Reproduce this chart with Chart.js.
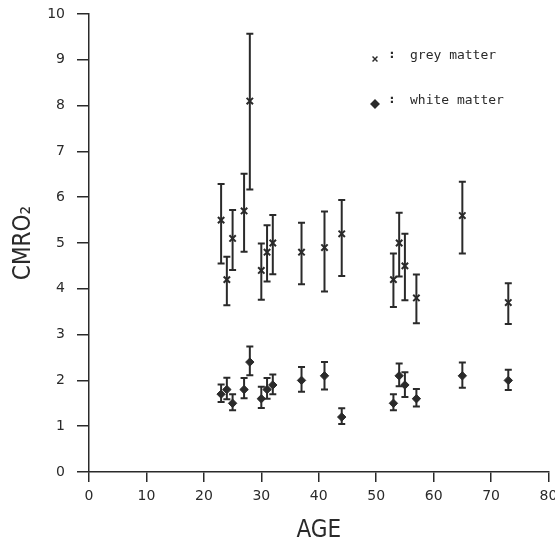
<!DOCTYPE html>
<html>
<head>
<meta charset="utf-8">
<script src="https://cdn.jsdelivr.net/npm/chart.js@4/dist/chart.umd.min.js"></script>
<style>
  html, body { margin: 0; padding: 0; background: #fff; }
  #wrap { width: 555px; height: 540px; position: relative; }
</style>
</head>
<body>
<div id="wrap"><canvas id="c" width="555" height="540"></canvas></div>
<script>
// ---- data ----
const ages      = [23, 24, 25, 27, 28, 30, 31, 32, 37, 41, 44, 53, 54, 55, 57, 65, 73];
const greyMean  = [5.5, 4.2, 5.1, 5.7, 8.1, 4.4, 4.8, 5.0, 4.8, 4.9, 5.2, 4.2, 5.0, 4.5, 3.8, 5.6, 3.7];
const greyLow   = [4.55, 3.64, 4.41, 4.81, 6.17, 3.76, 4.16, 4.32, 4.10, 3.94, 4.28, 3.60, 4.27, 3.75, 3.25, 4.77, 3.23];
const greyHigh  = [6.29, 4.70, 5.72, 6.51, 9.57, 4.99, 5.39, 5.61, 5.44, 5.69, 5.94, 4.77, 5.66, 5.20, 4.31, 6.34, 4.12];
const whiteMean = [1.7, 1.8, 1.5, 1.8, 2.4, 1.6, 1.8, 1.9, 2.0, 2.1, 1.2, 1.5, 2.1, 1.9, 1.6, 2.1, 2.0];
const whiteLow  = [1.53, 1.59, 1.35, 1.61, 2.11, 1.40, 1.60, 1.70, 1.75, 1.80, 1.05, 1.35, 1.87, 1.64, 1.43, 1.84, 1.79];
const whiteHigh = [1.91, 2.06, 1.70, 2.05, 2.74, 1.86, 2.05, 2.13, 2.29, 2.40, 1.39, 1.70, 2.37, 2.18, 1.81, 2.39, 2.23];
const xTicks = [0, 10, 20, 30, 40, 50, 60, 70, 80];
const yTicks = [0, 1, 2, 3, 4, 5, 6, 7, 8, 9, 10];
const legendLabels = ['grey matter', 'white matter'];
const xTitle = 'AGE';
const yTitle = 'CMRO\u2082';

const INK = '#2a2a2a';

function pts(xs, ys, lo, hi) {
  return xs.map((x, i) => ({ x: x, y: ys[i], lo: lo[i], hi: hi[i] }));
}

const errorBars = {
  id: 'errorBars',
  beforeDatasetsDraw(chart) {
    const ctx = chart.ctx;
    const xs = chart.scales.x, ys = chart.scales.y;
    ctx.save();
    ctx.strokeStyle = INK;
    chart.data.datasets.forEach(ds => {
      ds.data.forEach(p => {
        const px = xs.getPixelForValue(p.x);
        const yl = ys.getPixelForValue(p.lo);
        const yh = ys.getPixelForValue(p.hi);
        ctx.lineWidth = 2;
        ctx.beginPath();
        ctx.moveTo(px, yl); ctx.lineTo(px, yh);
        ctx.stroke();
        ctx.beginPath();
        ctx.moveTo(px - 3.5, yl); ctx.lineTo(px + 3.5, yl);
        ctx.moveTo(px - 3.5, yh); ctx.lineTo(px + 3.5, yh);
        ctx.stroke();
      });
    });
    ctx.restore();
  }
};

const customLegend = {
  id: 'customLegend',
  afterDraw(chart) {
    const ctx = chart.ctx;
    ctx.save();
    ctx.fillStyle = INK;
    ctx.strokeStyle = INK;
    ctx.font = '13px "DejaVu Sans Mono", monospace';
    ctx.textBaseline = 'middle';
    const rows = [
      { style: 'crossRot', r: 3.5, y: 59, ty: 56 },
      { style: 'rectRot', r: 4, y: 104, ty: 101 }
    ];
    rows.forEach((row, i) => {
      ctx.lineWidth = 1.4;
      Chart.helpers.drawPoint(ctx, { pointStyle: row.style, radius: row.r, borderWidth: 1.4 }, 375, row.y);
      if (row.style === 'rectRot') ctx.fill();
      ctx.font = 'bold 13px "DejaVu Sans Mono", monospace';
      ctx.fillText(':', 388, row.ty - 1);
      ctx.font = '13px "DejaVu Sans Mono", monospace';
      ctx.fillText(legendLabels[i], 410, row.ty);
    });
    ctx.restore();
  }
};

const tickFont = { family: '"DejaVu Sans", sans-serif', size: 14 };
const titleFont = { family: '"Liberation Sans Narrow", "DejaVu Sans Condensed", sans-serif', size: 24, lineHeight: 1 };

new Chart(document.getElementById('c'), {
  type: 'scatter',
  data: {
    datasets: [
      {
        label: legendLabels[0],
        data: pts(ages, greyMean, greyLow, greyHigh),
        pointStyle: 'crossRot',
        pointRadius: 4.5,
        pointBorderWidth: 2,
        borderColor: INK,
        backgroundColor: INK
      },
      {
        label: legendLabels[1],
        data: pts(ages, whiteMean, whiteLow, whiteHigh),
        pointStyle: 'rectRot',
        pointRadius: 4.2,
        pointBorderWidth: 1,
        borderColor: INK,
        backgroundColor: INK
      }
    ]
  },
  options: {
    responsive: false,
    animation: false,
    layout: { padding: { left: 0, right: 5, top: 14, bottom: 0 } },
    plugins: {
      legend: { display: false },
      tooltip: { enabled: false }
    },
    scales: {
      x: {
        type: 'linear',
        min: 0, max: 80,
        afterBuildTicks(scale) { scale.ticks = xTicks.map(v => ({ value: v })); },
        afterFit(scale) { scale.height = 68; scale.paddingLeft = 0; scale.paddingRight = 0; },
        ticks: { color: INK, font: tickFont, padding: 6, maxRotation: 0 },
        grid: { drawOnChartArea: false, drawTicks: true, tickLength: 10, color: INK, lineWidth: 1.5 },
        border: { display: true, color: INK, width: 1.5 },
        title: { display: true, text: xTitle, color: INK, font: titleFont, padding: { top: 0, bottom: -3 } }
      },
      y: {
        type: 'linear',
        min: 0, max: 10,
        afterBuildTicks(scale) { scale.ticks = yTicks.map(v => ({ value: v })); },
        afterFit(scale) { scale.width = 89; scale.paddingTop = 0; scale.paddingBottom = 0; },
        ticks: { color: INK, font: tickFont, padding: 12 },
        grid: { drawOnChartArea: false, drawTicks: true, tickLength: 12, color: INK, lineWidth: 1.5 },
        border: { display: true, color: INK, width: 1.5 },
        title: { display: true, text: yTitle, color: INK, font: titleFont, padding: { top: 12, bottom: 0 } }
      }
    }
  },
  plugins: [errorBars, customLegend]
});
</script>
</body>
</html>
